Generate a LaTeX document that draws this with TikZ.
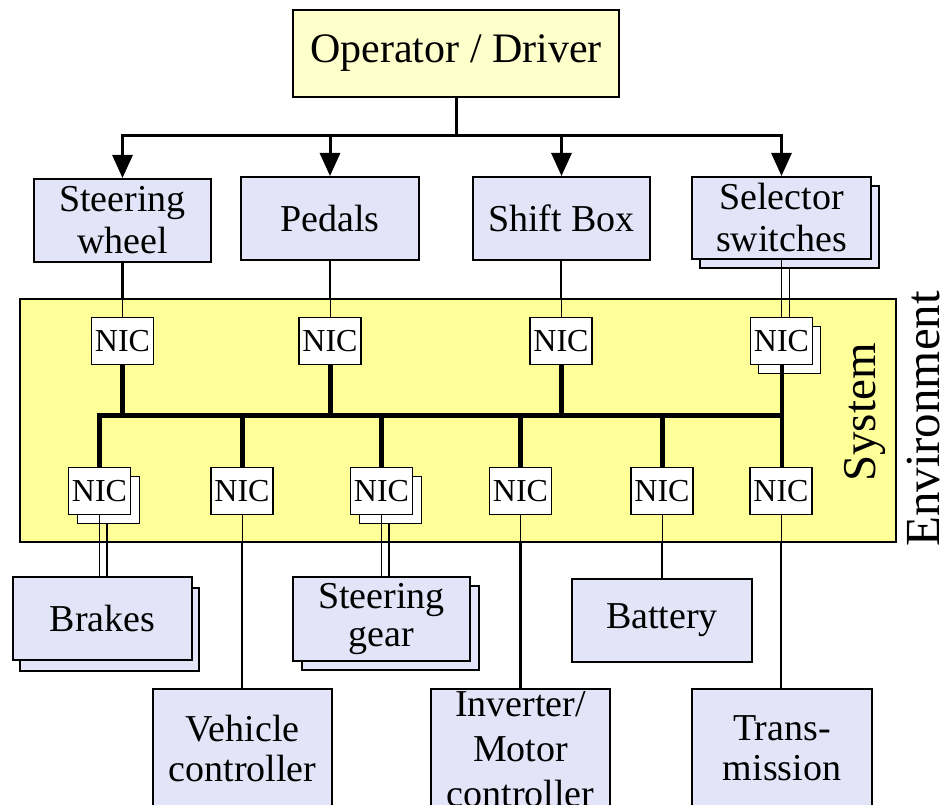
\documentclass[tikz,border=0pt]{standalone}
\usepackage{fontspec}
\setmainfont{Liberation Serif}
\usetikzlibrary{arrows.meta,calc}
\definecolor{lav}{HTML}{E4E4F8}
\definecolor{sysy}{HTML}{FFFF99}
\definecolor{opy}{HTML}{FFFFCC}
\begin{document}
\begin{tikzpicture}[x=1pt,y=-1pt,
  box/.style={draw, line width=2pt, fill=lav, inner sep=0pt, align=center,
    font=\fontsize{38}{42}\selectfont},
  nic/.style={draw, line width=1.5pt, fill=white, minimum width=62pt,
    minimum height=47pt, inner sep=0pt, font=\fontsize{32}{32}\selectfont},
  feed/.style={line width=3pt, line join=miter},
  tip/.style={-{Triangle[width=20pt,length=23pt]}},
  outl/.style={line width=2.5pt},
  inl/.style={line width=1pt},
  dbl/.style={line width=1.5pt},
  bus/.style={line width=5pt, line join=miter}]
\clip (0,0) rectangle (940,805);
\fill[white] (0,0) rectangle (940,805);

% system area
\node[draw, line width=2pt, fill=sysy, minimum width=876pt, minimum height=243pt, inner sep=0pt] (sys) at (458,420.5) {};

% operator and inputs
\node[box, fill=opy, minimum width=326pt, minimum height=87pt, font=\fontsize{42}{42}\selectfont] (op) at (456,53.5) {Operator / Driver};
\node[box, minimum width=177pt, minimum height=83pt] (sw) at (122.5,220.5) {Steering\\wheel};
\node[box, minimum width=178pt, minimum height=83pt] (ped) at (330,218.5) {Pedals};
\node[box, minimum width=177pt, minimum height=83pt] (shift) at (561.5,218.5) {Shift Box};
\node[box, minimum width=179pt, minimum height=82pt] (selS) at (789.5,227) {};
\node[box, minimum width=179pt, minimum height=82pt] (sel) at (781.5,218) {Selector\\switches};

% NICs
\node[nic] (n1) at (122.5,341) {NIC};
\node[nic] (n2) at (330,341) {NIC};
\node[nic] (n3) at (561,341) {NIC};
\node[nic] (n4s) at (789.5,350) {};
\node[nic] (n4) at (781.5,341) {NIC};
\node[nic] (b1s) at (108.5,500) {};
\node[nic] (b1) at (99.5,491) {NIC};
\node[nic] (b2) at (242,491) {NIC};
\node[nic] (b3s) at (390.5,500) {};
\node[nic] (b3) at (381.5,491) {NIC};
\node[nic] (b4) at (520.5,491) {NIC};
\node[nic] (b5) at (662,491) {NIC};
\node[nic] (b6) at (781,491) {NIC};

% outputs
\node[box, minimum width=179pt, minimum height=83pt] (brS) at (109.5,629.5) {};
\node[box, minimum width=179pt, minimum height=83pt] (br) at (102.5,618.5) {Brakes};
\node[box, minimum width=177pt, minimum height=84pt] (sgS) at (390.5,628) {};
\node[box, minimum width=177pt, minimum height=84pt, font=\fontsize{38}{38}\selectfont] (sg) at (381.5,619) {Steering\\gear};
\node[box, minimum width=180pt, minimum height=83pt] (bat) at (662,620.5) {Battery};
\node[box, minimum width=179pt, minimum height=118pt, font=\fontsize{38}{40}\selectfont] (vc) at (242.5,748) {Vehicle\\controller};
\node[box, minimum width=179pt, minimum height=120pt, font=\fontsize{38}{45}\selectfont] (inv) at (520.5,749) {Inverter/\\Motor\\controller};
\node[box, minimum width=180pt, minimum height=118pt, font=\fontsize{38}{40}\selectfont] (tr) at (782,748) {Trans-\\mission};

% side labels
\node[rotate=90, anchor=base, inner sep=0pt, font=\fontsize{47}{47}\selectfont] (systxt) at (875,412.5) {System};
\node[rotate=90, anchor=base, inner sep=0pt, font=\fontsize{49}{49}\selectfont] (envtxt) at (939,419) {Environment};

% operator feed
\draw[feed] (op.south) -- (op.south |- 0,136) coordinate (hub);
\draw[feed,tip] (hub) -| (sw.north);
\draw[feed,tip] (hub) -| (ped.north);
\draw[feed,tip] (hub) -| (shift.north);
\draw[feed,tip] (hub) -| (sel.north);

% inputs to NICs
\foreach \nn/\bb in {n1/sw, n2/ped, n3/shift}{
  \draw[outl] (\nn.north |- \bb.south) -- (\nn.north |- sys.north);
  \draw[inl] (\nn.north |- sys.north) -- (\nn.north);
}
\coordinate (s2) at ($(n4.north)+(8,0)$);
\draw[dbl] (n4.north |- sel.south) -- (n4.north);
\draw[dbl] (s2 |- selS.south) -- (s2);

% bus
\draw[bus] (b1.north) -- (b1.north |- 0,415) -- (n4.south |- 0,415);
\foreach \nn in {n1,n2,n3}{\draw[bus] (\nn.south) -- (\nn.south |- 0,415);}
\foreach \nn in {b2,b3,b4,b5}{\draw[bus] (\nn.north |- 0,415) -- (\nn.north);}
\draw[line width=4pt] (n4.south) -- (n4.south |- b6.north);

% NICs to outputs
\coordinate (k1) at ($(b1.south)+(7.5,0)$);
\draw[dbl] (b1.south) -- (b1.south |- br.north);
\draw[dbl] (k1 |- b1s.south) -- (k1 |- br.north);
\coordinate (k3) at ($(b3.south)+(7.5,0)$);
\draw[dbl] (b3.south) -- (b3.south |- sg.north);
\draw[dbl] (k3 |- b3s.south) -- (k3 |- sg.north);
\foreach \nn/\bb in {b2/vc, b4/inv, b5/bat, b6/tr}{
  \draw[inl] (\nn.south) -- (\nn.south |- sys.south);
  \draw[outl] (\nn.south |- sys.south) -- (\nn.south |- \bb.north);
}
\end{tikzpicture}
\end{document}
